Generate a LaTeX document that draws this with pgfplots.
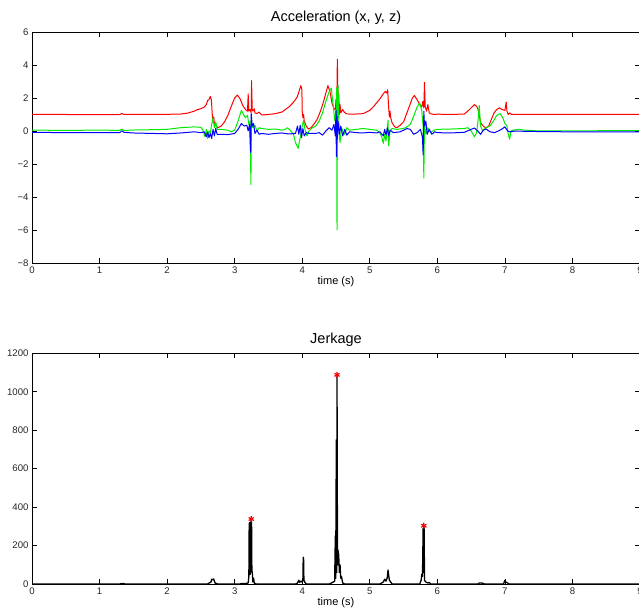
\documentclass[border=0pt]{standalone}
\usepackage{fontspec}
\setmainfont{Liberation Sans}
\usepackage{pgfplots}
\pgfplotsset{compat=1.18}

\definecolor{mred}{RGB}{255,0,0}
\definecolor{mgreen}{RGB}{0,235,0}
\definecolor{mblue}{RGB}{0,0,255}

\pgfplotsset{
  matlab/.style={
    scale only axis,
    width=608pt,
    xmin=0, xmax=9,
    xtick={0,1,2,3,4,5,6,7,8,9},
    tick align=inside,
    major tick length=5pt,
    axis line style={line width=0.9pt},
    every tick/.style={black, line width=0.7pt},
    tick label style={font=\fontsize{9.6}{11}\selectfont, text=black!85},
    /pgf/number format/assume math mode=true,
    every axis title/.style={at={(0.5,1)}, anchor=base, yshift=10pt,
      font=\fontsize{14.5}{16}\selectfont},
    every axis x label/.style={at={(axis description cs:0.5,0)}, anchor=base,
      yshift=-22pt, font=\fontsize{11}{13}\selectfont},
    xlabel={time (s)},
  }
}

\begin{document}
\begin{tikzpicture}
\useasboundingbox (0,0) rectangle (639pt,609pt);

% accelerometer traces
\begin{axis}[matlab,
    at={(32pt,346pt)}, anchor=south west,
    height=231pt,
    ymin=-8, ymax=6,
    ytick={-8,-6,-4,-2,0,2,4,6},
    yticklabels={−8,−6,−4,−2,0,2,4,6},
    title={Acceleration (x, y, z)},
]
\addplot[mred, line width=1pt, line join=round] coordinates {
(0,1.0) (0.5,1.0) (1.0,0.99) (1.3,1.0) (1.33,1.06) (1.36,1.0) (1.6,1.01) (1.8,1.0)
(2.0,1.01) (2.2,1.03) (2.3,1.08) (2.4,1.2) (2.45,1.3) (2.5,1.35) (2.55,1.45) (2.58,1.6)
(2.6,1.85) (2.62,1.9) (2.64,2.1) (2.655,1.9) (2.67,0.9) (2.68,0.5) (2.69,0.85) (2.70,0.45)
(2.72,0.35) (2.75,0.2) (2.8,0.3) (2.85,0.55) (2.9,0.95) (2.95,1.5) (3.0,2.0) (3.04,2.18)
(3.08,1.95) (3.12,1.55) (3.16,1.3) (3.19,1.2) (3.2,2.25) (3.21,1.2) (3.23,1.3) (3.245,1.1)
(3.25,3.05) (3.26,1.3) (3.27,1.2) (3.29,1.35) (3.3,1.1) (3.33,1.05) (3.36,1.15) (3.4,0.97)
(3.5,1.0) (3.6,1.05) (3.7,1.15) (3.75,1.3) (3.8,1.45) (3.85,1.65) (3.9,1.9) (3.93,2.1)
(3.96,2.5) (3.98,2.75) (3.995,2.5) (4.0,1.2) (4.01,0.8) (4.02,1.0) (4.03,0.6) (4.06,0.3)
(4.09,0.12) (4.13,0.2) (4.18,0.45) (4.22,0.7) (4.27,1.2) (4.31,1.7) (4.35,2.3) (4.38,2.75)
(4.41,2.4) (4.44,1.7) (4.47,1.35) (4.49,1.3) (4.5,1.9) (4.51,1.2) (4.52,4.35) (4.53,1.5)
(4.54,2.3) (4.55,1.0) (4.56,1.6) (4.57,1.1) (4.6,1.3) (4.62,1.15) (4.65,1.05) (4.7,1.02)
(4.8,1.03) (4.9,1.05) (5.0,1.25) (5.05,1.45) (5.1,1.7) (5.15,1.95) (5.2,2.25) (5.23,2.4)
(5.25,2.3) (5.265,2.5) (5.28,1.4) (5.29,0.85) (5.3,1.2) (5.31,0.8) (5.33,0.5) (5.37,0.25)
(5.4,0.2) (5.45,0.35) (5.5,0.55) (5.55,1.1) (5.6,1.65) (5.63,2.0) (5.66,2.15) (5.7,1.9)
(5.74,1.6) (5.77,1.45) (5.785,1.8) (5.8,1.4) (5.81,2.95) (5.82,1.5) (5.84,1.2) (5.86,1.6)
(5.88,1.1) (5.9,1.05) (5.95,1.0) (6.0,1.02) (6.2,1.0) (6.4,1.03) (6.45,1.2) (6.5,1.4)
(6.55,1.6) (6.58,1.5) (6.6,1.35) (6.62,1.0) (6.64,0.5) (6.68,0.3) (6.72,0.18) (6.76,0.3)
(6.8,0.7) (6.84,1.1) (6.88,1.3) (6.92,1.4) (6.96,1.3) (7.0,1.25) (7.02,1.75) (7.03,1.2)
(7.05,1.0) (7.07,1.1) (7.1,1.0) (7.5,1.0) (8.0,1.0) (8.5,1.0) (9.0,1.0)
};
\addplot[mgreen, line width=1pt, line join=round] coordinates {
(0,0.05) (0.5,0.04) (1.0,0.05) (1.3,0.04) (1.33,0.12) (1.36,0.03) (1.5,0.06) (1.8,0.08)
(2.0,0.1) (2.2,0.2) (2.4,0.25) (2.5,0.22) (2.53,0.05) (2.56,-0.35) (2.58,0.1) (2.6,-0.45)
(2.62,0.0) (2.64,-0.1) (2.66,0.4) (2.68,0.8) (2.7,0.2) (2.72,0.55) (2.74,0.1) (2.8,0.1)
(2.9,0.05) (2.95,-0.05) (3.0,0.05) (3.05,0.6) (3.1,1.25) (3.13,1.0) (3.16,0.8) (3.19,0.95)
(3.21,0.4) (3.23,0.6) (3.24,-3.25) (3.25,0.5) (3.27,0.2) (3.3,0.35) (3.33,0.0) (3.36,0.2)
(3.4,0.15) (3.5,0.1) (3.6,0.12) (3.7,0.05) (3.75,0.1) (3.78,0.2) (3.82,0.05) (3.87,-0.2)
(3.9,-0.7) (3.94,-1.05) (3.96,-0.6) (3.98,-0.2) (4.0,0.3) (4.02,0.65) (4.04,0.1) (4.07,-0.3)
(4.1,0.0) (4.15,0.2) (4.2,0.3) (4.25,0.6) (4.3,1.1) (4.35,1.8) (4.4,2.4) (4.43,2.6)
(4.46,1.5) (4.48,0.7) (4.5,0.4) (4.51,2.6) (4.515,-6.0) (4.52,0.2) (4.53,2.8) (4.54,1.0)
(4.55,-0.3) (4.56,-0.7) (4.58,0.2) (4.6,0.0) (4.63,-0.2) (4.66,0.2) (4.7,0.05) (4.8,0.1)
(4.9,0.15) (5.0,0.1) (5.1,0.05) (5.15,-0.1) (5.18,-0.4) (5.2,-0.75) (5.22,-0.2) (5.24,-0.6)
(5.26,0.1) (5.27,0.65) (5.28,-0.9) (5.3,0.0) (5.33,0.15) (5.4,0.1) (5.5,0.15) (5.55,0.25)
(5.6,0.4) (5.65,0.9) (5.7,1.45) (5.74,1.7) (5.77,1.2) (5.79,0.3) (5.80,-2.85) (5.81,0.5)
(5.83,-0.2) (5.86,0.2) (5.9,-0.1) (5.95,0.05) (6.0,0.1) (6.2,0.12) (6.4,0.15) (6.45,0.2)
(6.5,0.0) (6.55,-0.35) (6.58,-0.1) (6.6,0.5) (6.62,1.55) (6.64,0.3) (6.67,0.0) (6.72,0.2)
(6.78,0.3) (6.83,0.6) (6.88,0.95) (6.93,1.05) (6.97,0.8) (7.0,0.45) (7.03,0.3) (7.05,-0.2)
(7.07,-0.5) (7.09,0.0) (7.12,0.05) (7.2,0.1) (7.3,0.05) (7.5,0.0) (8.0,0.0) (8.5,0.02) (9.0,0.03)
};
\addplot[mblue, line width=1pt, line join=round] coordinates {
(0,-0.08) (0.5,-0.1) (1.0,-0.1) (1.3,-0.1) (1.33,0.02) (1.36,-0.08) (1.5,-0.12) (1.8,-0.15)
(2.0,-0.17) (2.2,-0.12) (2.4,-0.05) (2.5,-0.1) (2.55,-0.05) (2.58,-0.35) (2.6,-0.05) (2.62,-0.4)
(2.64,-0.15) (2.66,-0.45) (2.68,0.1) (2.7,-0.3) (2.72,0.15) (2.74,-0.2) (2.8,-0.2) (2.9,-0.22)
(3.0,-0.15) (3.05,0.1) (3.1,0.45) (3.14,0.3) (3.18,0.35) (3.2,0.0) (3.22,0.4) (3.235,-1.3)
(3.245,1.05) (3.26,0.3) (3.28,0.45) (3.3,-0.15) (3.33,0.05) (3.36,-0.2) (3.4,-0.15) (3.5,-0.2)
(3.6,-0.15) (3.7,-0.12) (3.8,-0.18) (3.9,-0.15) (3.93,0.3) (3.95,-0.2) (3.97,0.35) (3.99,-0.4)
(4.01,0.15) (4.03,-0.3) (4.06,-0.1) (4.1,-0.15) (4.2,-0.15) (4.25,-0.1) (4.3,-0.25) (4.35,0.0)
(4.4,0.2) (4.44,0.05) (4.47,0.4) (4.49,-0.3) (4.5,1.25) (4.505,-1.55) (4.515,0.9) (4.52,-0.5)
(4.53,0.6) (4.55,-0.2) (4.57,0.3) (4.6,-0.3) (4.63,0.1) (4.66,-0.25) (4.7,-0.05) (4.8,-0.1)
(4.9,-0.12) (5.0,-0.08) (5.1,-0.12) (5.15,-0.05) (5.2,-0.3) (5.22,0.1) (5.24,-0.25) (5.26,0.2)
(5.28,-0.3) (5.3,0.05) (5.35,-0.1) (5.45,-0.05) (5.55,0.15) (5.6,0.1) (5.65,-0.2) (5.7,-0.1)
(5.75,0.1) (5.78,-0.4) (5.79,-1.45) (5.80,1.2) (5.81,0.3) (5.83,0.6) (5.85,-0.2) (5.88,0.1)
(5.92,-0.2) (5.96,-0.05) (6.0,-0.1) (6.2,-0.12) (6.4,-0.08) (6.5,0.1) (6.55,0.18) (6.6,0.0)
(6.64,-0.2) (6.68,0.05) (6.72,0.12) (6.78,-0.05) (6.85,-0.1) (6.9,0.0) (6.95,0.1) (7.0,0.25)
(7.04,0.0) (7.08,-0.05) (7.15,0.0) (7.3,-0.02) (7.6,-0.04) (8.0,-0.05) (8.5,-0.05) (9.0,-0.05)
};
\end{axis}

% jerk magnitude with detected peaks
\begin{axis}[matlab,
    at={(32pt,25pt)}, anchor=south west,
    height=230.7pt,
    ymin=0, ymax=1200,
    ytick={0,200,400,600,800,1000,1200},
    yticklabels={0,200,400,600,800,1000,1200},
    title={Jerkage},
]
\addplot[black, line width=1.3pt, line join=round] coordinates {
(0,0) (1.3,0) (1.34,3) (1.38,0) (2.6,0) (2.62,5) (2.65,10) (2.66,25) (2.68,22) (2.69,26)
(2.71,5) (2.75,0) (3.08,0) (3.1,3) (3.15,2) (3.2,5) (3.21,40) (3.215,315) (3.225,320)
(3.23,50) (3.24,300) (3.245,335) (3.25,330) (3.255,60) (3.26,65) (3.27,10) (3.28,30)
(3.29,5) (3.32,0) (3.9,0) (3.93,5) (3.95,20) (3.96,8) (3.98,15) (4.0,10) (4.01,30)
(4.015,139) (4.02,135) (4.025,20) (4.04,8) (4.06,0) (4.4,0) (4.43,5) (4.46,10) (4.48,15)
(4.49,250) (4.495,30) (4.505,750) (4.51,60) (4.515,1088) (4.52,400) (4.525,100) (4.53,175)
(4.54,150) (4.55,60) (4.56,100) (4.57,30) (4.58,40) (4.6,5) (4.63,0) (5.15,0) (5.2,10)
(5.22,25) (5.24,15) (5.26,35) (5.27,73) (5.28,45) (5.29,20) (5.31,10) (5.33,0) (5.74,0)
(5.76,20) (5.77,50) (5.78,40) (5.79,290) (5.795,60) (5.8,300) (5.805,285) (5.81,20)
(5.83,10) (5.86,5) (5.88,8) (5.9,0) (6.6,0) (6.62,5) (6.66,5) (6.7,0) (6.98,0) (7.0,20)
(7.01,10) (7.03,8) (7.06,0) (9,0)
};
\addplot[only marks, mark=asterisk, mark size=3pt, mred, line width=1.2pt] coordinates {
(3.245,338) (4.515,1088) (5.80,303)
};
\end{axis}
\end{tikzpicture}
\end{document}
